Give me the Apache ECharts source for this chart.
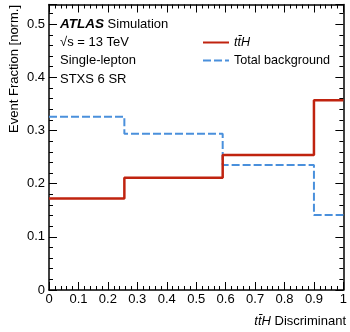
<!DOCTYPE html>
<html>
  <head>
    <meta charset="utf-8">
    <title>ttH discriminant</title>
    <style>
      html, body { margin: 0; padding: 0; background: #fff; }
      #chart { width: 350px; height: 332px; }
    </style>
  </head>
  <body>
    <div id="chart"></div>
    <script src="https://cdn.jsdelivr.net/npm/echarts@6/dist/echarts.min.js"></script>
    <script>
      // Histogram bins (uneven edges) and per-bin event fractions
      var binEdges = [0, 0.256, 0.590, 0.900, 1];
      var tthValues = [0.172, 0.211, 0.254, 0.357];
      var bkgValues = [0.326, 0.294, 0.235, 0.141];
      var xTicks = [0, 0.1, 0.2, 0.3, 0.4, 0.5, 0.6, 0.7, 0.8, 0.9, 1];
      var yTicks = [0, 0.1, 0.2, 0.3, 0.4, 0.5];

      var FONT = 'Liberation Sans';
      var FS = 13;
      var RED = '#c0230f';
      var BLUE = '#4a90dc';

      // step points: one per edge, the last edge repeats the last bin
      function stepPoints(values) {
        return binEdges.map(function(e, i) {
          return [e, values[Math.min(i, values.length - 1)]];
        });
      }

      function pickTick(list) {
        return function(v) {
          var hit = list.filter(function(t) { return Math.abs(t - v) < 1e-6; });
          return hit.length ? String(hit[0]) : '';
        };
      }

      function frameAxis(extra) {
        var base = {
          type: 'value',
          axisLine: { show: true, onZero: false, lineStyle: { color: '#000', width: 1.5 } },
          axisTick: { show: true, inside: true, length: 8, lineStyle: { color: '#000', width: 1 } },
          minorTick: { show: true, splitNumber: 5, length: 4, lineStyle: { color: '#000', width: 1 } },
          splitLine: { show: false },
          minorSplitLine: { show: false },
          axisLabel: { show: false }
        };
        return Object.assign(base, extra);
      }

      var chart = echarts.init(document.getElementById('chart'));
      chart.setOption({
        animation: false,
        textStyle: { fontFamily: FONT },
        grid: { left: 49, right: 4, top: 4.5, bottom: 42 },
        xAxis: [
          frameAxis({
            position: 'bottom', min: 0, max: 1, interval: 0.1,
            axisLabel: { show: true, color: '#000', fontSize: FS, fontFamily: FONT, margin: 3, formatter: pickTick(xTicks) }
          }),
          frameAxis({ position: 'top', min: 0, max: 1, interval: 0.1 })
        ],
        yAxis: [
          frameAxis({
            position: 'left', min: 0, max: 0.537, interval: 0.1,
            axisLabel: { show: true, color: '#000', fontSize: FS, fontFamily: FONT, margin: 4, showMaxLabel: false, formatter: pickTick(yTicks) }
          }),
          frameAxis({ position: 'right', min: 0, max: 0.537, interval: 0.1 })
        ],
        legend: {
          left: 202, top: 36, orient: 'vertical', padding: 0,
          itemWidth: 26, itemHeight: 14, itemGap: 5,
          itemStyle: { opacity: 0 },
          textStyle: {
            color: '#000', fontSize: 12.6, fontFamily: FONT,
            rich: { i: { fontStyle: 'italic', fontSize: 12.6, fontFamily: FONT } }
          },
          formatter: function(name) {
            return name === 'ttH' ? '{i|tt\u0304H}' : name;
          },
          data: ['ttH', 'Total background']
        },
        series: [
          {
            name: 'Total background', type: 'line', step: 'end',
            symbol: 'none', data: stepPoints(bkgValues),
            lineStyle: { color: BLUE, width: 2, type: [8, 3] },
            itemStyle: { color: BLUE }
          },
          {
            name: 'ttH', type: 'line', step: 'end',
            symbol: 'none', data: stepPoints(tthValues),
            lineStyle: { color: RED, width: 2.5 },
            itemStyle: { color: RED }
          }
        ],
        graphic: [
          {
            type: 'text', left: 60, top: 17,
            style: {
              text: '{b|ATLAS} Simulation', fill: '#000', fontSize: FS, fontFamily: FONT,
              rich: { b: { fontWeight: 'bold', fontStyle: 'italic', fontSize: FS + 0.5, fontFamily: FONT } }
            }
          },
          { type: 'text', left: 60, top: 36, style: { text: '\u221As = 13 TeV', fill: '#000', fontSize: FS, fontFamily: FONT } },
          { type: 'text', left: 60, top: 54, style: { text: 'Single-lepton', fill: '#000', fontSize: FS, fontFamily: FONT } },
          { type: 'text', left: 60, top: 73, style: { text: 'STXS 6 SR', fill: '#000', fontSize: FS, fontFamily: FONT } },
          {
            type: 'text', x: 14, y: 5, rotation: Math.PI / 2,
            style: {
              text: 'Event Fraction [norm.]', fill: '#000', fontSize: FS, fontFamily: FONT,
              align: 'right', verticalAlign: 'middle'
            }
          },
          {
            type: 'text', x: 346, y: 321,
            style: {
              text: '{i|tt\u0304H} Discriminant', fill: '#000', fontSize: FS, fontFamily: FONT,
              align: 'right', verticalAlign: 'middle',
              rich: { i: { fontStyle: 'italic', fontSize: FS, fontFamily: FONT } }
            }
          }
        ]
      });
    </script>
  </body>
</html>
